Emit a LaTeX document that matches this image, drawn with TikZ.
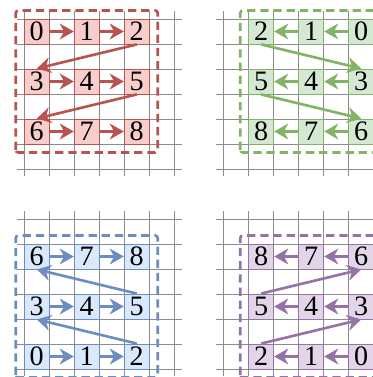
\documentclass[tikz,border=0pt]{standalone}
\usepackage{fontspec}
\setmainfont{Liberation Serif}
\usetikzlibrary{arrows.meta}
\definecolor{redline}{HTML}{B85450}
\definecolor{redfill}{HTML}{F8CECC}
\definecolor{greenline}{HTML}{82B366}
\definecolor{greenfill}{HTML}{D5E8D4}
\definecolor{blueline}{HTML}{6C8EBF}
\definecolor{bluefill}{HTML}{DAE8FC}
\definecolor{purpleline}{HTML}{9673A6}
\definecolor{purplefill}{HTML}{E1D5E7}

\begin{document}
\begin{tikzpicture}[x=0.5cm,y=0.5cm]
\tikzstyle{gl}=[black!45, line width=0.5pt]
\tikzstyle{cell}=[rectangle, inner sep=0pt, minimum size=0.5cm, line width=0.5pt, font=\fontsize{16}{18}\selectfont]
\tikzstyle{arr}=[-{Stealth[length=8pt,width=9pt,inset=2.5pt]}, line width=1.5pt]
\tikzstyle{box}=[dash pattern=on 4.7pt off 2.8pt, line width=1.5pt, rounded corners=1.5pt]
\clip (0,0) rectangle (14.92,15.08);
%1
\def\r{0.97};
\def\u{8.32};
\foreach \i in {0,...,6} {
\draw[gl] (\i+\r,-0.3+\u) -- (\i+\r,6.3+\u);
\draw[gl] (-0.3+\r,\i+\u) -- (6.3+\r,\i+\u);
}
\draw[box, redline] (-0.34+\r,0.66+\u) rectangle (5.34+\r,6.34+\u);
\node[cell, draw=redline, fill=redfill] (n0) at (0.5+\r,5.5+\u) {0};
\node[cell, draw=redline, fill=redfill] (n1) at (2.5+\r,5.5+\u) {1};
\node[cell, draw=redline, fill=redfill] (n2) at (4.5+\r,5.5+\u) {2};
\node[cell, draw=redline, fill=redfill] (n3) at (0.5+\r,3.5+\u) {3};
\node[cell, draw=redline, fill=redfill] (n4) at (2.5+\r,3.5+\u) {4};
\node[cell, draw=redline, fill=redfill] (n5) at (4.5+\r,3.5+\u) {5};
\node[cell, draw=redline, fill=redfill] (n6) at (0.5+\r,1.5+\u) {6};
\node[cell, draw=redline, fill=redfill] (n7) at (2.5+\r,1.5+\u) {7};
\node[cell, draw=redline, fill=redfill] (n8) at (4.5+\r,1.5+\u) {8};
\draw[arr, redline] (n0) -- (n1);
\draw[arr, redline] (n1) -- (n2);
\draw[arr, redline] (n2.south) -- (n3.north);
\draw[arr, redline] (n3) -- (n4);
\draw[arr, redline] (n4) -- (n5);
\draw[arr, redline] (n5.south) -- (n6.north);
\draw[arr, redline] (n6) -- (n7);
\draw[arr, redline] (n7) -- (n8);
%2
\def\r{8.95};
\def\u{8.32};
\foreach \i in {0,...,6} {
\draw[gl] (\i+\r,-0.3+\u) -- (\i+\r,6.3+\u);
\draw[gl] (-0.3+\r,\i+\u) -- (6.3+\r,\i+\u);
}
\draw[box, greenline] (0.66+\r,0.66+\u) rectangle (6.34+\r,6.34+\u);
\node[cell, draw=greenline, fill=greenfill] (n0) at (5.5+\r,5.5+\u) {0};
\node[cell, draw=greenline, fill=greenfill] (n1) at (3.5+\r,5.5+\u) {1};
\node[cell, draw=greenline, fill=greenfill] (n2) at (1.5+\r,5.5+\u) {2};
\node[cell, draw=greenline, fill=greenfill] (n3) at (5.5+\r,3.5+\u) {3};
\node[cell, draw=greenline, fill=greenfill] (n4) at (3.5+\r,3.5+\u) {4};
\node[cell, draw=greenline, fill=greenfill] (n5) at (1.5+\r,3.5+\u) {5};
\node[cell, draw=greenline, fill=greenfill] (n6) at (5.5+\r,1.5+\u) {6};
\node[cell, draw=greenline, fill=greenfill] (n7) at (3.5+\r,1.5+\u) {7};
\node[cell, draw=greenline, fill=greenfill] (n8) at (1.5+\r,1.5+\u) {8};
\draw[arr, greenline] (n0) -- (n1);
\draw[arr, greenline] (n1) -- (n2);
\draw[arr, greenline] (n2.south) -- (n3.north);
\draw[arr, greenline] (n3) -- (n4);
\draw[arr, greenline] (n4) -- (n5);
\draw[arr, greenline] (n5.south) -- (n6.north);
\draw[arr, greenline] (n6) -- (n7);
\draw[arr, greenline] (n7) -- (n8);
%3
\def\r{0.97};
\def\u{0.32};
\foreach \i in {0,...,6} {
\draw[gl] (\i+\r,-0.3+\u) -- (\i+\r,6.3+\u);
\draw[gl] (-0.3+\r,\i+\u) -- (6.3+\r,\i+\u);
}
\draw[box, blueline] (-0.34+\r,-0.34+\u) rectangle (5.34+\r,5.34+\u);
\node[cell, draw=blueline, fill=bluefill] (n0) at (0.5+\r,0.5+\u) {0};
\node[cell, draw=blueline, fill=bluefill] (n1) at (2.5+\r,0.5+\u) {1};
\node[cell, draw=blueline, fill=bluefill] (n2) at (4.5+\r,0.5+\u) {2};
\node[cell, draw=blueline, fill=bluefill] (n3) at (0.5+\r,2.5+\u) {3};
\node[cell, draw=blueline, fill=bluefill] (n4) at (2.5+\r,2.5+\u) {4};
\node[cell, draw=blueline, fill=bluefill] (n5) at (4.5+\r,2.5+\u) {5};
\node[cell, draw=blueline, fill=bluefill] (n6) at (0.5+\r,4.5+\u) {6};
\node[cell, draw=blueline, fill=bluefill] (n7) at (2.5+\r,4.5+\u) {7};
\node[cell, draw=blueline, fill=bluefill] (n8) at (4.5+\r,4.5+\u) {8};
\draw[arr, blueline] (n0) -- (n1);
\draw[arr, blueline] (n1) -- (n2);
\draw[arr, blueline] (n2.north) -- (n3.south);
\draw[arr, blueline] (n3) -- (n4);
\draw[arr, blueline] (n4) -- (n5);
\draw[arr, blueline] (n5.north) -- (n6.south);
\draw[arr, blueline] (n6) -- (n7);
\draw[arr, blueline] (n7) -- (n8);
%4
\def\r{8.95};
\def\u{0.32};
\foreach \i in {0,...,6} {
\draw[gl] (\i+\r,-0.3+\u) -- (\i+\r,6.3+\u);
\draw[gl] (-0.3+\r,\i+\u) -- (6.3+\r,\i+\u);
}
\draw[box, purpleline] (0.66+\r,-0.34+\u) rectangle (6.34+\r,5.34+\u);
\node[cell, draw=purpleline, fill=purplefill] (n0) at (5.5+\r,0.5+\u) {0};
\node[cell, draw=purpleline, fill=purplefill] (n1) at (3.5+\r,0.5+\u) {1};
\node[cell, draw=purpleline, fill=purplefill] (n2) at (1.5+\r,0.5+\u) {2};
\node[cell, draw=purpleline, fill=purplefill] (n3) at (5.5+\r,2.5+\u) {3};
\node[cell, draw=purpleline, fill=purplefill] (n4) at (3.5+\r,2.5+\u) {4};
\node[cell, draw=purpleline, fill=purplefill] (n5) at (1.5+\r,2.5+\u) {5};
\node[cell, draw=purpleline, fill=purplefill] (n6) at (5.5+\r,4.5+\u) {6};
\node[cell, draw=purpleline, fill=purplefill] (n7) at (3.5+\r,4.5+\u) {7};
\node[cell, draw=purpleline, fill=purplefill] (n8) at (1.5+\r,4.5+\u) {8};
\draw[arr, purpleline] (n0) -- (n1);
\draw[arr, purpleline] (n1) -- (n2);
\draw[arr, purpleline] (n2.north) -- (n3.south);
\draw[arr, purpleline] (n3) -- (n4);
\draw[arr, purpleline] (n4) -- (n5);
\draw[arr, purpleline] (n5.north) -- (n6.south);
\draw[arr, purpleline] (n6) -- (n7);
\draw[arr, purpleline] (n7) -- (n8);
\end{tikzpicture}
\end{document}
